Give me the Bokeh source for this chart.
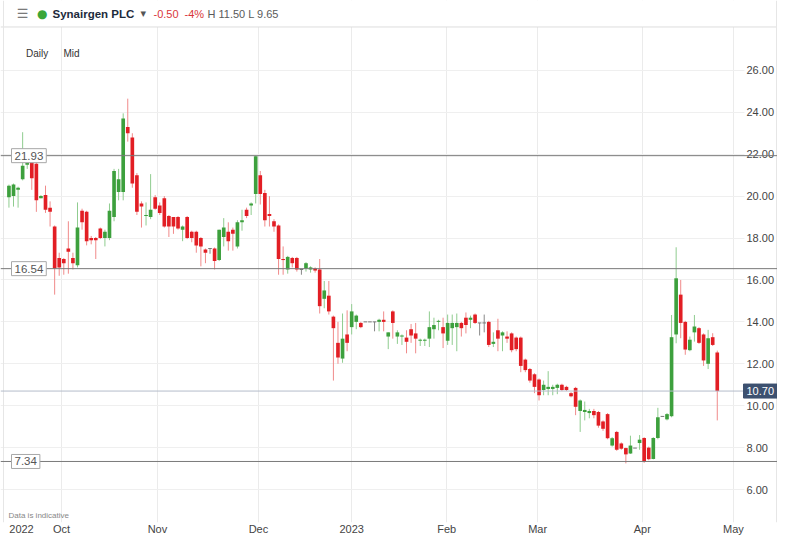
from bokeh.plotting import figure
from bokeh.models import Range1d, FixedTicker, PrintfTickFormatter, Label, Span, ColumnDataSource, BoxAnnotation
from bokeh.embed import file_html
from bokeh.resources import INLINE

# ---- data (daily candles, Sep 2022 - Apr 2023, index = trading day) ----
opens = [19.95, 20.0, 20.3, 20.8, 21.5, 21.7, 21.55, 19.9, 20.05, 19.45, 18.55, 17.05,
         17.0, 17.5, 17.05, 16.7, 19.3, 19.25, 18.0, 18.0, 18.45, 18.0, 18.0, 19.0,
         20.2, 20.2, 23.3, 22.8, 21.0, 19.65, 19.05, 19.0, 19.95, 19.55, 19.9, 19.05,
         19.0, 19.0, 18.4, 19.0, 18.3, 18.3, 18.0, 17.45, 17.5, 17.5, 16.95, 18.05,
         18.3, 18.4, 17.6, 18.75, 19.35, 19.55, 20.1, 21.0, 20.15, 19.15, 18.8, 18.6,
         17.0, 16.5, 17.05, 17.05, 16.5, 16.55, 16.5, 16.55, 16.5, 15.1, 15.25, 14.25,
         13.0, 12.25, 13.4, 13.75, 14.0, 13.95, 14.0, 14.0, 14.0, 14.0, 14.1, 13.3,
         14.5, 13.3, 13.3, 13.25, 13.65, 13.45, 13.1, 13.1, 13.2, 13.65, 14.0, 13.75,
         13.1, 13.7, 13.75, 13.95, 14.2, 14.1, 14.35, 13.95, 13.95, 14.0, 12.95, 13.6,
         13.35, 13.3, 13.45, 13.25, 13.25, 12.2, 11.75, 11.5, 11.25, 10.75, 10.8, 10.8,
         10.85, 11.0, 10.9, 10.6, 10.85, 9.75, 9.7, 9.65, 9.75, 9.7, 9.25, 9.6,
         8.1, 8.75, 8.2, 7.98, 7.72, 7.98, 8.22, 8.46, 8.0, 7.46, 8.46, 9.49,
         9.35, 9.5, 13.4, 15.3, 14.0, 12.65, 13.5, 13.7, 13.4, 12.0, 13.27, 12.54]
highs = [20.55, 20.6, 20.45, 23.05, 21.9, 21.8, 21.7, 20.05, 20.5, 19.75, 18.6, 17.3,
         17.05, 18.8, 17.3, 19.7, 19.4, 19.3, 18.1, 18.05, 18.5, 18.4, 19.65, 21.3,
         21.3, 23.95, 24.65, 23.0, 21.1, 19.75, 19.7, 21.05, 20.05, 19.7, 20.0, 19.1,
         19.0, 19.05, 18.6, 19.05, 18.35, 18.35, 18.05, 17.5, 17.5, 17.55, 18.4, 18.95,
         18.75, 18.5, 18.85, 19.35, 19.45, 19.7, 21.93, 21.2, 20.3, 20.0, 18.9, 18.65,
         17.6, 17.15, 17.1, 17.1, 16.5, 16.85, 16.65, 16.6, 17.0, 15.95, 15.95, 14.3,
         14.0, 14.4, 14.55, 14.85, 14.35, 14.0, 14.0, 14.0, 14.0, 14.15, 14.5, 13.5,
         14.55, 13.6, 13.4, 13.6, 13.9, 13.95, 13.2, 13.2, 14.5, 14.2, 14.1, 14.2,
         14.35, 14.35, 14.4, 14.0, 14.45, 14.3, 14.4, 13.95, 14.35, 14.05, 13.5, 14.15,
         13.55, 13.55, 13.5, 13.3, 13.3, 12.25, 11.8, 11.55, 11.3, 11.2, 11.65, 11.0,
         11.05, 11.05, 10.95, 10.65, 10.9, 10.3, 10.2, 9.85, 9.85, 9.75, 9.3, 9.65,
         8.5, 8.8, 8.25, 8.0, 8.57, 7.98, 8.6, 8.5, 8.05, 8.5, 9.9, 9.49,
         9.65, 14.33, 17.56, 16.0, 14.05, 13.3, 14.33, 13.75, 13.45, 13.62, 13.46, 12.63]
lows = [19.45, 19.5, 19.45, 20.75, 21.3, 20.3, 19.25, 19.9, 19.2, 18.55, 15.3, 16.2,
        16.25, 16.3, 16.5, 16.6, 18.4, 17.65, 17.7, 17.0, 17.95, 17.6, 17.9, 18.8,
        19.8, 19.8, 22.6, 20.4, 19.1, 18.5, 18.6, 18.9, 19.35, 19.1, 18.5, 18.05,
        18.2, 18.4, 17.85, 17.95, 17.8, 17.3, 16.65, 16.8, 17.25, 16.5, 16.9, 17.6,
        17.4, 17.4, 17.5, 18.35, 18.95, 19.1, 19.65, 19.6, 18.55, 18.55, 18.3, 16.25,
        16.25, 16.3, 16.6, 16.4, 16.25, 16.4, 16.35, 16.35, 14.4, 14.65, 14.35, 11.2,
        12.0, 12.05, 12.6, 13.4, 13.65, 13.7, 14.0, 14.0, 13.55, 13.55, 13.55, 12.7,
        13.2, 12.95, 12.9, 12.5, 13.0, 12.5, 12.85, 12.85, 12.8, 13.2, 13.6, 12.75,
        12.9, 12.9, 12.6, 13.3, 13.45, 13.7, 13.9, 13.35, 13.5, 12.8, 12.8, 12.6,
        12.6, 13.0, 12.55, 12.6, 11.6, 11.6, 11.1, 10.6, 10.25, 10.5, 10.5, 10.5,
        10.55, 10.7, 10.7, 10.4, 9.55, 8.75, 9.3, 9.4, 9.4, 8.95, 8.8, 8.4,
        8.05, 7.85, 7.9, 7.25, 7.7, 7.98, 7.9, 7.27, 7.4, 7.44, 8.4, 9.49,
        9.3, 9.45, 12.98, 13.22, 12.43, 12.6, 13.06, 12.95, 11.9, 11.75, 12.85, 9.3]
closes = [20.5, 20.55, 20.4, 21.45, 21.6, 20.85, 19.8, 20.0, 19.35, 19.25, 16.55, 16.6,
          16.8, 17.35, 16.8, 18.5, 18.75, 17.85, 17.9, 17.9, 18.0, 18.3, 19.3, 21.2,
          20.8, 23.7, 23.0, 20.6, 19.25, 19.5, 19.1, 19.35, 19.4, 19.2, 18.55, 18.55,
          18.55, 18.45, 18.55, 18.0, 18.0, 17.65, 17.6, 17.3, 17.5, 16.9, 18.4, 18.5,
          17.85, 18.2, 18.75, 18.85, 19.05, 19.65, 21.9, 20.1, 18.85, 19.05, 18.55, 17.0,
          16.95, 17.1, 16.8, 16.5, 16.5, 16.8, 16.6, 16.45, 14.75, 15.5, 14.5, 13.7,
          12.3, 13.2, 13.0, 14.5, 14.3, 13.75, 14.0, 14.0, 14.0, 14.1, 14.0, 13.5,
          13.95, 13.5, 13.35, 13.05, 13.35, 13.2, 13.15, 13.15, 13.75, 13.85, 14.05, 13.45,
          13.95, 13.95, 13.95, 13.7, 13.85, 14.2, 13.95, 13.95, 13.95, 12.9, 13.05, 13.2,
          13.5, 13.2, 12.65, 12.7, 11.9, 11.7, 11.2, 10.9, 10.5, 11.0, 10.9, 10.9,
          11.0, 10.75, 10.75, 10.45, 9.95, 10.25, 9.8, 9.75, 9.55, 9.05, 8.9, 8.45,
          8.45, 7.9, 7.95, 7.68, 8.1, 7.98, 8.38, 7.35, 7.45, 8.46, 9.45, 9.49,
          9.6, 13.27, 16.08, 13.95, 12.68, 13.15, 13.78, 13.0, 12.16, 13.22, 12.9, 10.7]

month_ticks = [11.5, 32.5, 54.6, 75.0, 95.8, 115.7, 138.6, 158.55]
month_labels = ["Oct", "Nov", "Dec", "2023", "Feb", "Mar", "Apr", "May"]
year_tick = 2.75
year_label = "2022"
price_ticks = [6, 8, 10, 12, 14, 16, 18, 20, 22, 24, 26]
level_values = [21.93, 16.54, 7.34]
last_price = 10.70

GREEN, RED, GREY = "#3da03d", "#e21e24", "#777777"
GREEN_W, RED_W, GREY_W = "#8fcc8f", "#f08a8a", "#888888"
FONT = "Liberation Sans"

n = len(opens)
xs = list(range(n))
body_col, wick_col, tops, bots = [], [], [], []
dx, dy = [], []
for i in range(n):
    o, c = opens[i], closes[i]
    if c > o:
        body_col.append(GREEN); wick_col.append(GREEN_W)
    elif c < o:
        body_col.append(RED); wick_col.append(RED_W)
    else:
        body_col.append(GREY); wick_col.append(GREY_W)
        dx.append(i); dy.append(o)
    tops.append(max(o, c)); bots.append(min(o, c))

src = ColumnDataSource(dict(x=xs, high=highs, low=lows, top=tops, bottom=bots,
                            color=body_col, wick=wick_col))
dsrc = ColumnDataSource(dict(x0=[v - 0.4 for v in dx], x1=[v + 0.4 for v in dx], y=dy))

# frame covers the full canvas width; header lives inside the top of the frame
X0, X1 = -1.848, 168.18
Y0, Y1 = 4.429, 29.333
CHART_TOP = 28.07      # price level at the header separator
AXIS_EDGE = 160.95     # start of the price-scale strip (x index)

p = figure(width=777, height=537, output_backend="svg", toolbar_location=None,
           x_range=Range1d(X0, X1), y_range=Range1d(Y0, Y1),
           y_axis_location="right",
           min_border_left=0, min_border_right=0, min_border_top=0, min_border_bottom=14)
p.background_fill_color = "white"
p.border_fill_color = "white"
p.outline_line_color = None

# axes
p.yaxis.ticker = FixedTicker(ticks=price_ticks)
p.yaxis.formatter = PrintfTickFormatter(format="%.2f")
p.yaxis.axis_line_color = None
p.yaxis.major_tick_line_color = None
p.yaxis.minor_tick_line_color = None
p.yaxis.major_tick_out = 0
p.yaxis.major_tick_in = 0
p.yaxis.minor_tick_out = 0
p.yaxis.major_label_standoff = -31
p.yaxis.major_label_text_font = FONT
p.yaxis.major_label_text_font_size = "11px"
p.yaxis.major_label_text_color = "#444444"

p.xaxis.ticker = FixedTicker(ticks=[year_tick] + month_ticks)
p.xaxis.major_label_overrides = {year_tick: year_label, **{t: l for t, l in zip(month_ticks, month_labels)}}
p.xaxis.axis_line_color = None
p.xaxis.major_tick_line_color = None
p.xaxis.minor_tick_line_color = None
p.xaxis.major_tick_out = 0
p.xaxis.major_tick_in = 0
p.xaxis.minor_tick_out = 0
p.xaxis.major_label_standoff = 0
p.xaxis.major_label_text_font = FONT
p.xaxis.major_label_text_font_size = "11px"
p.xaxis.major_label_text_color = "#444444"

p.xgrid.ticker = FixedTicker(ticks=month_ticks)
p.xgrid.grid_line_color = "#ebebeb"
p.ygrid.ticker = FixedTicker(ticks=price_ticks)
p.ygrid.grid_line_color = "#efefef"

# white header strip and price-scale strip (cover grid lines)
p.add_layout(BoxAnnotation(bottom=CHART_TOP, fill_color="white", fill_alpha=1,
                           line_color=None, level="underlay"))
p.add_layout(BoxAnnotation(left=AXIS_EDGE, fill_color="white", fill_alpha=1,
                           line_color=None, level="underlay"))

# borders
p.add_layout(Span(location=CHART_TOP, dimension="width", line_color="#dedede", line_width=1))
p.add_layout(Span(location=-1.19, dimension="height", line_color="#e6e6e6", line_width=1))
p.add_layout(Span(location=167.96, dimension="height", line_color="#e6e6e6", line_width=1))

# level lines
for v in level_values:
    p.add_layout(Span(location=v, dimension="width", line_color="#7a7a7a", line_width=1))
p.add_layout(Span(location=last_price, dimension="width", line_color="#b4bccb", line_width=1))

# candles
p.segment(x0="x", y0="low", x1="x", y1="high", line_color="wick", line_width=1, source=src)
p.vbar(x="x", width=0.8, top="top", bottom="bottom", fill_color="color", line_color=None, source=src)
p.segment(x0="x0", y0="y", x1="x1", y1="y", line_color=GREY, line_width=1, source=dsrc)

# level boxes on the left
for v in level_values:
    p.add_layout(Label(x=11, y=v, x_units="screen", y_units="data", text=f"{v:.2f}",
                       text_baseline="middle", text_align="left", text_font=FONT,
                       text_font_size="11.5px", text_color="#555555",
                       background_fill_color="white", border_line_color="#a8a8a8",
                       padding=3))
# last price box on the right
p.add_layout(Label(x=743, y=last_price, x_units="screen", y_units="data", text=f"{last_price:.2f}",
                   text_baseline="middle", text_align="left", text_font=FONT,
                   text_font_size="11px", text_color="white",
                   background_fill_color="#3d5170", border_line_color="#3d5170",
                   padding=3))

# header
HY = 509
def hlabel(x, text, color, size="10.5px", style="normal", font=FONT, align="left"):
    p.add_layout(Label(x=x, y=HY, x_units="screen", y_units="screen", text=text,
                       text_baseline="middle", text_align=align, text_font=font,
                       text_font_size=size, text_color=color, text_font_style=style))

hlabel(22, "\u2630", "#7a7a7a", size="13px", font="DejaVu Sans", align="center")
hlabel(41.7, "\u25cf", "#3aa63a", size="12px", font="DejaVu Sans", align="center")
hlabel(52, "Synairgen PLC", "#1d2b3c", size="11.5px", style="bold")
hlabel(140, "\u25be", "#555555", size="11px", font="DejaVu Sans")
hlabel(153, "-0.50", "#d9363a", size="11px")
hlabel(184, "-4%", "#d9363a", size="11px")
hlabel(207, "H 11.50 L 9.65", "#5a5a5a", size="11px")

# chart captions
p.add_layout(Label(x=25.5, y=469, x_units="screen", y_units="screen", text="Daily",
                   text_baseline="middle", text_font=FONT, text_font_size="10px", text_color="#333333"))
p.add_layout(Label(x=63, y=469, x_units="screen", y_units="screen", text="Mid",
                   text_baseline="middle", text_font=FONT, text_font_size="10px", text_color="#333333"))
p.add_layout(Label(x=8, y=7, x_units="screen", y_units="screen", text="Data is indicative",
                   text_baseline="middle", text_font=FONT, text_font_size="8px", text_color="#888888"))

open("out.html", "w").write(file_html(p, INLINE))
